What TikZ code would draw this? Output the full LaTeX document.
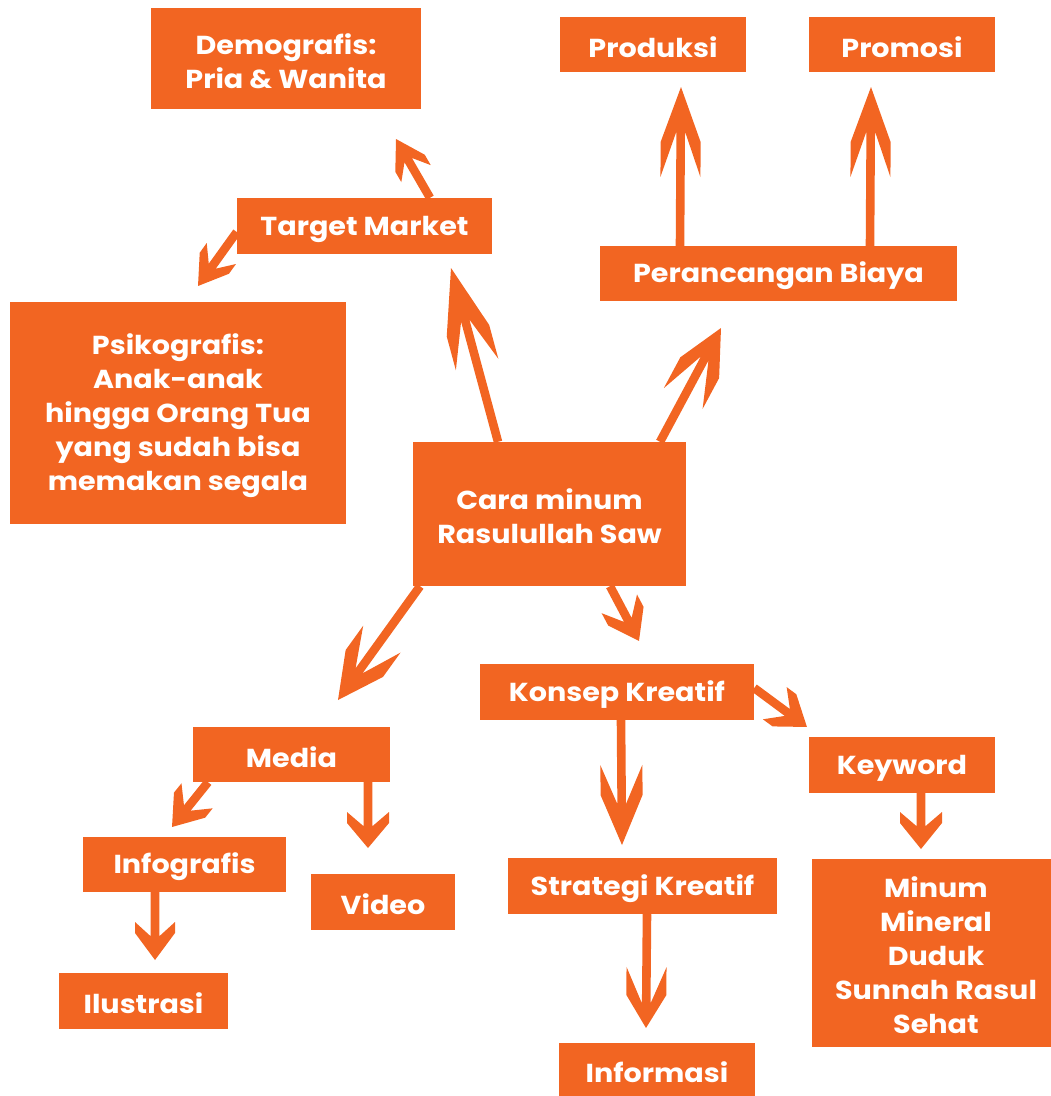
\documentclass[tikz,border=0pt]{standalone}
\usepackage{fontspec}
\setmainfont{Poppins}[FakeStretch=1.1]
\usetikzlibrary{calc}
\definecolor{orng}{HTML}{F26522}
\tikzset{
  box/.style={fill=orng, text=white, inner sep=0pt, align=center,
    font=\bfseries\fontsize{26}{34}\selectfont},
}
\newcommand\tup{\rule{0pt}{25.5pt}}
% \farrow{from}{to}{L}{W}{c}
\newcommand\farrow[5]{%
  \path let \p1=#1, \p2=#2, \n1={atan2(\y2-\y1,\x2-\x1)}, \n2={veclen(\x2-\x1,\y2-\y1)} in
    \pgfextra{\xdef\fang{\n1}\xdef\flen{\n2}};
  \pgfmathsetmacro\fn{#5-0.3*(#3-#5)}
  \def\fs{4.3}
  \fill[orng, shift={#1}, rotate=\fang]
    (0,-\fs) -- ({\flen-\fn},-\fs) -- ({\flen-#3},-#4) -- ({\flen-#5},-#4)
    -- (\flen,0) -- ({\flen-#5},#4) -- ({\flen-#3},#4) -- ({\flen-\fn},\fs)
    -- (0,\fs) -- cycle;
}
\begin{document}
\begin{tikzpicture}[x=1pt,y=-1pt]
\clip (0,0) rectangle (1051,1096);
% boxes
\node[box, minimum width=270pt, minimum height=101pt] (demo) at (286,58.5) {\tup Demografis:\\Pria \& Wanita};
\node[box, minimum width=186pt, minimum height=55pt] (prod) at (653,44.5) {\tup Produksi};
\node[box, minimum width=186pt, minimum height=55pt] (prom) at (902,44.5) {\tup Promosi};
\node[box, minimum width=255pt, minimum height=56pt] (tm) at (364.5,226) {\tup Target Market};
\node[box, minimum width=357pt, minimum height=55pt] (pb) at (778.5,273.5) {\tup Perancangan Biaya};
\node[box, minimum width=336pt, minimum height=222pt] (psi) at (178,413) {\tup Psikografis:\\Anak-anak\\hingga Orang Tua\\yang sudah bisa\\memakan segala};
\node[box, minimum width=273pt, minimum height=144pt] (cara) at (549.5,514) {\tup Cara minum\\Rasulullah Saw};
\node[box, minimum width=274pt, minimum height=56pt] (kk) at (617,692) {\tup Konsep Kreatif};
\node[box, minimum width=197pt, minimum height=55pt] (media) at (291.5,754.5) {\tup Media};
\node[box, minimum width=186pt, minimum height=56pt] (kw) at (902,765) {\tup Keyword};
\node[box, minimum width=203pt, minimum height=55pt] (info) at (184.5,864.5) {\tup Infografis};
\node[box, minimum width=144pt, minimum height=56pt] (video) at (383,902) {\tup Video};
\node[box, minimum width=269pt, minimum height=56pt] (strat) at (642.5,886) {\tup Strategi Kreatif};
\node[box, minimum width=248pt, minimum height=188pt] (minum) at (936,953) {\tup Minum\\Mineral\\Duduk\\Sunnah Rasul\\Sehat};
\node[box, minimum width=169pt, minimum height=56pt] (ilus) at (143.5,1001) {\tup Ilustrasi};
\node[box, minimum width=196pt, minimum height=53pt] (inform) at (657,1069.5) {\tup Informasi};
% arrow tips
\coordinate (t1) at (396,139);
\coordinate (t2) at (198,286);
\coordinate (t3) at (451,268);
\coordinate (t4) at (721,328);
\coordinate (t5) at (681,87);
\coordinate (t6) at (871,87);
\coordinate (t7) at (639,641);
\coordinate (t8) at (338,700);
\coordinate (t9) at (807,727);
\coordinate (t10) at (622,845);
\coordinate (t11) at (646,1028);
\coordinate (t12) at (921,849);
\coordinate (t13) at (172,827);
\coordinate (t14) at (368,848);
\coordinate (t15) at (155,960);
% arrows
\farrow{([xshift=65.5pt]tm.north)}{(t1)}{40}{17}{28}
\farrow{([yshift=-6pt]tm.west)}{(t2)}{40}{18}{28}
\farrow{([xshift=-51.5pt]cara.north)}{(t3)}{100}{22}{65}
\farrow{([xshift=110.5pt]cara.north)}{(t4)}{80}{22}{45}
\farrow{([xshift=-98.5pt]pb.north)}{(t5)}{90}{20}{55}
\farrow{([xshift=91.5pt]pb.north)}{(t6)}{90}{20}{55}
\farrow{([xshift=60.5pt]cara.south)}{(t7)}{42}{20}{28}
\farrow{([xshift=-129.5pt]cara.south)}{(t8)}{75}{23}{45}
\farrow{([yshift=4pt]kk.east)}{(t9)}{40}{20}{28}
\farrow{([xshift=4pt]kk.south)}{(t10)}{80}{21}{50}
\farrow{([xshift=4.5pt]strat.south)}{(t11)}{61}{20}{33}
\farrow{([xshift=19pt]kw.south)}{(t12)}{37}{21}{26}
\farrow{([xshift=-83.5pt]media.south)}{(t13)}{40}{20}{28}
\farrow{([xshift=76.5pt]media.south)}{(t14)}{36}{21}{25}
\farrow{([xshift=-29.5pt]info.south)}{(t15)}{38}{20}{27}
\end{tikzpicture}
\end{document}
